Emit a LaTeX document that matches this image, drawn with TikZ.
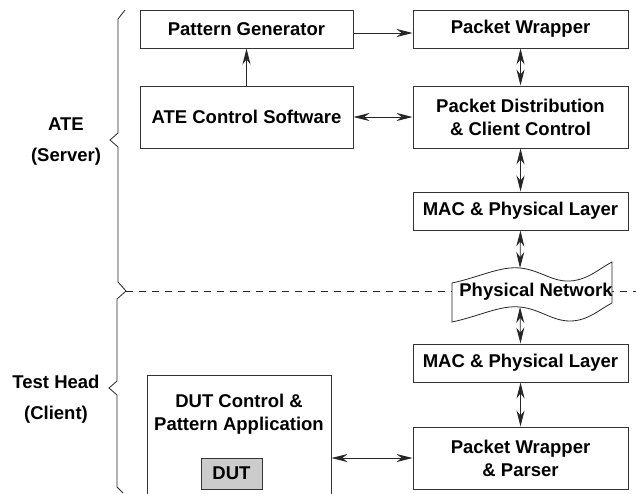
\documentclass[tikz,border=0pt]{standalone}
\usepackage{fontspec}
\setmainfont{Liberation Sans}
\usetikzlibrary{arrows.meta}

\begin{document}
\begin{tikzpicture}[x=1pt,y=-1pt,
        blk/.style={draw=black!80,line width=1pt,inner sep=0pt,align=center,
            font=\fontsize{18.5}{23}\selectfont\bfseries},
        side/.style={align=center,font=\fontsize{18.5}{31}\selectfont\bfseries},
        lnk/.style={draw=black!85,line width=0.8pt,-{Stealth[length=16pt,width=8pt]}},
        dlnk/.style={draw=black!85,line width=0.8pt,
            {Stealth[length=16pt,width=8pt]}-{Stealth[length=16pt,width=8pt]}},
        brc/.style={draw=black!85,line width=0.8pt}]
    \useasboundingbox (0,0) rectangle (636,493);

    % server side
    \node[blk,minimum width=213,minimum height=38] (patgen) at (246.5,29) {Pattern Generator};
    \node[blk,minimum width=215,minimum height=38] (pktwrap) at (520.5,29) {Packet Wrapper};
    \node[blk,minimum width=213,minimum height=62] (atectl) at (246.5,117) {ATE Control Software};
    \node[blk,minimum width=215,minimum height=62] (pktdist) at (520.5,117) {Packet Distribution\\ \& Client Control};
    \node[blk,minimum width=215,minimum height=38] (macup) at (520.5,211) {MAC \& Physical Layer};

    % separation line and network
    \draw[black!85,line width=0.8pt,dash pattern=on 7pt off 6pt] (126,291) -- (636,291);
    \draw[black!85,line width=0.8pt,fill=white] (452,283)
        .. controls (480,277) and (500,266) .. (520,268)
        .. controls (540,270) and (552,282) .. (570,281)
        .. controls (588,280) and (600,268) .. (612,262)
        -- (612,303)
        .. controls (600,309) and (588,321) .. (570,321)
        .. controls (552,321) and (540,309) .. (520,307)
        .. controls (500,305) and (480,316) .. (452,322) -- cycle;
    \coordinate (nettop) at (520,268);
    \coordinate (netbot) at (520,307);
    \node[blk,draw=none] (physnet) at (536,292) {Physical Network};

    % client side
    \node[blk,minimum width=215,minimum height=38] (maclow) at (520.5,363) {MAC \& Physical Layer};
    \node[blk,minimum width=215,minimum height=62] (pwparse) at (520.5,458) {Packet Wrapper\\ \& Parser};
    \node[blk,minimum width=184,minimum height=122,
        label={[blk,draw=none,anchor=north,yshift=-19pt]north:DUT Control \&\\Pattern Application}]
        (dutctl) at (239,436) {};
    \node[blk,fill=black!20,minimum width=61,minimum height=31] (dut) at (231.5,473.5) {DUT};

    % links
    \draw[lnk] ([yshift=-4pt]patgen.east) -- ([yshift=-4pt]pktwrap.west);
    \draw[lnk] (atectl) -- (patgen);
    \draw[dlnk] (atectl) -- (pktdist);
    \draw[dlnk] (pktwrap) -- (pktdist);
    \draw[dlnk] (pktdist) -- (macup);
    \draw[dlnk] (macup.south) -- (nettop);
    \draw[dlnk] (netbot) -- (maclow.north);
    \draw[dlnk] (maclow) -- (pwparse);
    \draw[dlnk] (dutctl.east |- pwparse.west) -- (pwparse.west);

    % braces
    \draw[brc] (125,10) -- (118,19) -- (118,133) -- (110,140) -- (118,147) -- (118,282) -- (126,291);
    \draw[brc] (126,291) -- (117,299) -- (117,381) -- (109,388) -- (117,395) -- (117,487) -- (123,493);
    \node[side] (ate) at (66,142) {ATE\\(Server)};
    \node[side] (head) at (56,399) {Test Head\\(Client)};
\end{tikzpicture}
\end{document}
